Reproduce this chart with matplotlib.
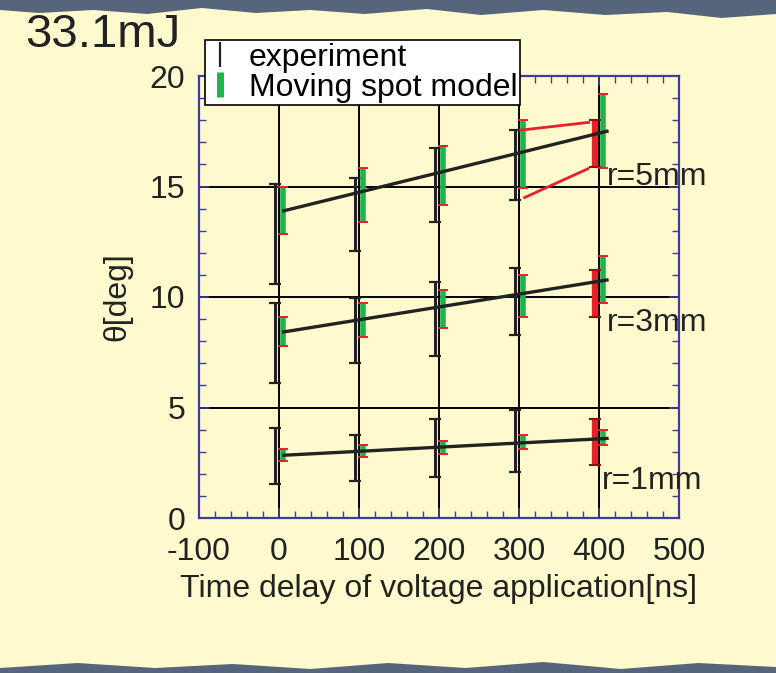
import matplotlib
matplotlib.use("Agg")
import matplotlib.pyplot as plt
from matplotlib.lines import Line2D
from matplotlib.patches import Polygon
import numpy as np

plt.rcParams['font.family'] = ['Liberation Sans', 'DejaVu Sans']
plt.rcParams['axes.unicode_minus'] = False

# ---------------- data ----------------
x_pos = [0, 100, 200, 300, 400]
x_ticks = [-100, 0, 100, 200, 300, 400, 500]
y_ticks = [0, 5, 10, 15, 20]

# experiment (low / high) -- last point (400 ns) highlighted in red
exp_5_lo = [10.6, 12.1, 13.4, 14.4, 15.9]
exp_5_hi = [15.1, 15.4, 16.75, 17.55, 18.0]
exp_3_lo = [6.1, 7.0, 7.35, 8.3, 9.1]
exp_3_hi = [9.73, 9.95, 10.7, 11.3, 11.2]
exp_1_lo = [1.53, 1.67, 1.85, 2.1, 2.4]
exp_1_hi = [4.05, 3.74, 4.5, 4.9, 4.5]

# moving spot model (low / high)
mod_5_lo = [12.85, 13.4, 14.15, 14.95, 15.85]
mod_5_hi = [15.0, 15.85, 16.85, 18.0, 19.2]
mod_3_lo = [7.8, 8.2, 8.6, 9.1, 9.73]
mod_3_hi = [9.1, 9.73, 10.3, 11.0, 11.85]
mod_1_lo = [2.6, 2.75, 2.9, 3.1, 3.3]
mod_1_hi = [3.1, 3.29, 3.5, 3.75, 4.0]

# fitted lines
fit_x = [6, 410]
fit_5 = [13.9, 17.5]
fit_3 = [8.42, 10.77]
fit_1 = [2.84, 3.6]

# red guide lines (r=5mm, 300 -> 400 ns)
guide_upper_x = [302, 387]
guide_upper_y = [17.55, 17.9]
guide_lower_x = [307, 386]
guide_lower_y = [14.5, 15.8]

radius_labels = ["r=5mm", "r=3mm", "r=1mm"]
radius_label_x = [410, 410, 404]
radius_label_y = [15.45, 8.83, 1.67]

# ---------------- style ----------------
BG = '#FFFACD'
GREEN = '#22B14C'
RED = '#E8202A'
BLACK = '#222222'
SPINE = '#3A3F9A'
FS = 23

W, H = 776, 673
fig = plt.figure(figsize=(W / 100, H / 100), dpi=100, facecolor=BG)
ax = fig.add_axes([199 / W, 1 - 518 / H, 480 / W, 442 / H])
ax.set_facecolor(BG)

# decorative slide border (top band and bottom blobs)
top_pts = [(0, 1), (1, 1), (1, 1 - 14 / H), (0.93, 1 - 18 / H), (0.86, 1 - 12 / H),
           (0.78, 1 - 15 / H), (0.70, 1 - 10 / H), (0.62, 1 - 15 / H), (0.55, 1 - 9 / H),
           (0.47, 1 - 14 / H), (0.40, 1 - 10 / H), (0.33, 1 - 13 / H), (0.26, 1 - 8 / H),
           (0.19, 1 - 14 / H), (0.12, 1 - 10 / H), (0.05, 1 - 13 / H), (0, 1 - 10 / H)]
fig.patches.append(Polygon(top_pts, closed=True, transform=fig.transFigure,
                           facecolor='#56657C', edgecolor='none', zorder=0))
bot_pts = [(0, 0), (1, 0), (1, 6 / H), (0.9, 10 / H), (0.8, 4 / H), (0.7, 11 / H),
           (0.6, 5 / H), (0.5, 10 / H), (0.4, 4 / H), (0.3, 9 / H), (0.2, 5 / H),
           (0.1, 10 / H), (0, 5 / H)]
fig.patches.append(Polygon(bot_pts, closed=True, transform=fig.transFigure,
                           facecolor='#56657C', edgecolor='none', zorder=0))

# grid
for xv in x_ticks[1:-1]:
    ax.axvline(xv, color='black', lw=1.4, zorder=1)
for yv in y_ticks[1:-1]:
    ax.axhline(yv, color='black', lw=1.4, zorder=1)

x_arr = np.array(x_pos, dtype=float)
off = 5.0

groups = [(exp_5_lo, exp_5_hi, mod_5_lo, mod_5_hi, fit_5),
          (exp_3_lo, exp_3_hi, mod_3_lo, mod_3_hi, fit_3),
          (exp_1_lo, exp_1_hi, mod_1_lo, mod_1_hi, fit_1)]

for elo, ehi, mlo, mhi, fit in groups:
    elo = np.array(elo); ehi = np.array(ehi)
    mlo = np.array(mlo); mhi = np.array(mhi)
    xe = x_arr[:-1] - off
    ax.errorbar(xe, (elo[:-1] + ehi[:-1]) / 2, yerr=(ehi[:-1] - elo[:-1]) / 2,
                fmt='none', ecolor=BLACK, elinewidth=2.2, capsize=4.5, capthick=1.6, zorder=3)
    ax.vlines(x_arr[-1] - off, elo[-1], ehi[-1], color=RED, lw=4.5, zorder=3)
    ax.plot([x_arr[-1] - off] * 2, [elo[-1], ehi[-1]], ls='none', marker='_', ms=8,
            mew=1.5, color='#8A1010', zorder=4)
    xm = x_arr + off
    ax.vlines(xm, mlo, mhi, color=GREEN, lw=4.0, zorder=3)
    ax.plot(np.r_[xm, xm], np.r_[mlo, mhi], ls='none', marker='_', ms=7,
            mew=1.4, color=RED, zorder=4)
    ax.plot(fit_x, fit, color=BLACK, lw=2.4, zorder=5)

ax.plot(guide_upper_x, guide_upper_y, color=RED, lw=2.0, zorder=5)
ax.plot(guide_lower_x, guide_lower_y, color=RED, lw=2.0, zorder=5)

for lab, lx, ly in zip(radius_labels, radius_label_x, radius_label_y):
    ax.text(lx, ly, lab, fontsize=FS, color=BLACK, ha='left', va='center',
            clip_on=False, zorder=6)

ax.set_xlim(-100, 500)
ax.set_ylim(0, 20)
ax.set_xticks(x_ticks)
ax.set_yticks(y_ticks)
ax.set_xticks(np.arange(-100, 501, 20), minor=True)
ax.set_yticks(np.arange(0, 21, 1), minor=True)
ax.tick_params(which='both', direction='in', top=True, right=True, colors=SPINE,
               labelcolor=BLACK, labelsize=FS)
ax.tick_params(which='major', length=7, width=1.2)
ax.tick_params(which='minor', length=5, width=1.0)
ax.tick_params(axis='x', pad=14)
ax.tick_params(axis='y', pad=10)
for s in ax.spines.values():
    s.set_color(SPINE)
    s.set_linewidth(1.6)

ax.set_xlabel('Time delay of voltage application[ns]', fontsize=FS, color=BLACK, labelpad=5)
ax.set_ylabel('θ[deg]', fontsize=FS, color=BLACK, labelpad=12)

fig.text(25 / W, 1 - 35 / H, '33.1mJ', fontsize=34, color=BLACK, ha='left', va='center')

handles = [Line2D([], [], ls='none', marker='|', ms=18, mew=1.6, color=BLACK),
           Line2D([], [], ls='none', marker='|', ms=18, mew=5, color=GREEN)]
leg = fig.legend(handles, ['experiment', 'Moving spot model'], loc='upper left',
                 bbox_to_anchor=(205 / W, 1 - 40 / H), bbox_transform=fig.transFigure,
                 fontsize=FS, frameon=True, fancybox=False, edgecolor='black',
                 facecolor='white', framealpha=1, borderaxespad=0, borderpad=0.08,
                 handlelength=0.8, handletextpad=0.5, labelspacing=0.0)
leg.get_frame().set_linewidth(1.2)
leg.set_zorder(10)

fig.savefig('out.png', dpi=100, facecolor=BG)
